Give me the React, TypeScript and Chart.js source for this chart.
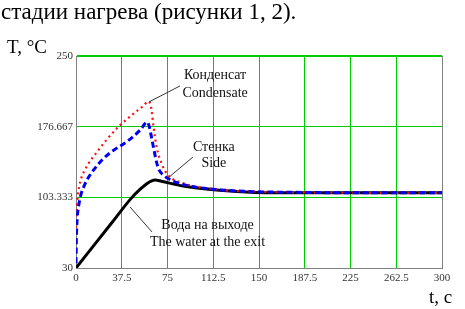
import React, { useEffect, useRef } from "react";
import { Chart, registerables } from "chart.js";

Chart.register(...registerables);

// ---- data (t in s, T in °C) ----
const condensateT = [0, 0.5, 1.5, 3.8, 7, 10, 17, 25, 36, 47, 55, 59.5, 61, 62, 63.5, 66, 70, 75, 88, 115, 140, 180, 250, 300];
const condensateV = [72, 90, 105, 121, 131, 138, 150, 163, 178, 190, 198, 203, 200, 193, 177, 156, 139, 127, 118, 111.5, 109.5, 108.5, 108, 108];

const sideT = [0, 0.3, 1, 2, 3.8, 6.6, 9.3, 14, 22.4, 30.6, 41.5, 52.5, 58.5, 60, 62, 64, 66, 68, 72, 80, 90, 110, 140, 180, 250, 300];
const sideV = [35, 60, 82, 93, 105, 115, 122, 131, 143.5, 152, 161, 173, 181.5, 177, 165, 152, 140, 132, 126, 120, 116, 112, 109.5, 108.5, 108, 108];

const waterT = [0, 15, 30, 45, 52, 58, 62, 65, 70, 88, 115, 143, 184, 250, 300];
const waterV = [30, 54, 78, 102, 111, 117.5, 120.5, 121.3, 120, 115, 111, 108.7, 108, 108, 108];

const xTicks = [0, 37.5, 75, 112.5, 150, 187.5, 225, 262.5, 300];
const yTicks = [30, 103.333, 176.667, 250];

const titleText = "стадии нагрева (рисунки 1, 2).";
const yAxisTitle = "T, °C";
const xAxisTitle = "t, c";

// annotations: text lines and leader lines, anchored in data coordinates
const labelLines = [
  { text: "Конденсат", t: 114, T: 230 },
  { text: "Condensate", t: 114, T: 211.6 },
  { text: "Стенка", t: 113, T: 155.6 },
  { text: "Side", t: 113, T: 139 },
  { text: "Вода на выходе", t: 107.8, T: 74.6 },
  { text: "The water at the exit", t: 107.8, T: 57 },
];
const leaders = [
  { t1: 59.8, T1: 202.3, t2: 85.2, T2: 218.9 },
  { t1: 75.4, T1: 123.4, t2: 95.9, T2: 145.2 },
  { t1: 44.3, T1: 93.3, t2: 62.3, T2: 67.4 },
];

const SERIF = "'Liberation Serif', 'DejaVu Serif', serif";

const toPts = (ts: number[], vs: number[]) => ts.map((t, i) => ({ x: t, y: vs[i] }));

const textPlugin = {
  id: "textPlugin",
  afterDatasetsDraw(chart: any) {
    const ctx = chart.ctx as CanvasRenderingContext2D;
    const xs = chart.scales.x;
    const ys = chart.scales.y;
    ctx.save();
    ctx.strokeStyle = "#333";
    ctx.lineWidth = 1;
    leaders.forEach((l) => {
      ctx.beginPath();
      ctx.moveTo(xs.getPixelForValue(l.t1), ys.getPixelForValue(l.T1));
      ctx.lineTo(xs.getPixelForValue(l.t2), ys.getPixelForValue(l.T2));
      ctx.stroke();
    });
    ctx.fillStyle = "#111";
    ctx.font = `14px ${SERIF}`;
    ctx.textAlign = "center";
    ctx.textBaseline = "middle";
    labelLines.forEach((l) => {
      ctx.fillText(l.text, xs.getPixelForValue(l.t), ys.getPixelForValue(l.T));
    });
    ctx.restore();
  },
  afterDraw(chart: any) {
    const ctx = chart.ctx as CanvasRenderingContext2D;
    ctx.save();
    ctx.fillStyle = "#000";
    ctx.textAlign = "left";
    ctx.textBaseline = "alphabetic";
    ctx.font = `23px ${SERIF}`;
    ctx.fillText(titleText, 1, 18.5);
    ctx.font = `19px ${SERIF}`;
    ctx.fillText(yAxisTitle, 7, 53);
    ctx.fillText(xAxisTitle, 429, 303);
    ctx.restore();
  },
};

export default function App() {
  const ref = useRef<HTMLCanvasElement | null>(null);
  useEffect(() => {
    document.body.style.margin = "0";
    if (!ref.current) return;
    const green = "rgb(0,205,0)";
    const chart = new Chart(ref.current, {
      type: "line",
      data: {
        datasets: [
          {
            label: "Вода на выходе",
            data: toPts(waterT, waterV),
            borderColor: "#000",
            borderWidth: 3,
            pointRadius: 0,
            cubicInterpolationMode: "monotone",
            order: 3,
          },
          {
            label: "Конденсат",
            data: toPts(condensateT, condensateV),
            borderColor: "#ff1010",
            borderWidth: 2.2,
            borderDash: [2, 3.5],
            pointRadius: 0,
            cubicInterpolationMode: "monotone",
            order: 2,
          },
          {
            label: "Стенка",
            data: toPts(sideT, sideV),
            borderColor: "#0000ee",
            borderWidth: 3,
            borderDash: [6, 3.5],
            pointRadius: 0,
            cubicInterpolationMode: "monotone",
            order: 1,
          },
        ],
      },
      options: {
        animation: false,
        responsive: false,
        layout: { padding: { left: 0, top: 56, right: 23, bottom: 0 } },
        plugins: { legend: { display: false }, tooltip: { enabled: false }, title: { display: false } },
        scales: {
          x: {
            type: "linear",
            min: 0,
            max: 300,
            afterBuildTicks: (s: any) => {
              s.ticks = xTicks.map((v) => ({ value: v }));
            },
            afterFit: (s: any) => {
              s.height = 41;
            },
            ticks: {
              autoSkip: false,
              maxRotation: 0,
              padding: 4,
              color: "#333",
              font: { family: SERIF, size: 11 },
              callback: (v: any) => String(v),
            },
            grid: {
              drawTicks: false,
              color: (c: any) => (c.index === xTicks.length - 1 ? "#808080" : green),
              lineWidth: 1,
            },
            border: { color: "#808080", width: 1 },
          },
          y: {
            type: "linear",
            min: 30,
            max: 250,
            afterBuildTicks: (s: any) => {
              s.ticks = yTicks.map((v) => ({ value: v }));
            },
            afterFit: (s: any) => {
              s.width = 76;
            },
            ticks: {
              autoSkip: false,
              padding: 3,
              color: "#333",
              font: { family: SERIF, size: 11 },
              callback: (v: any) => String(Number(Number(v).toFixed(3))),
            },
            grid: {
              drawTicks: false,
              color: green,
              lineWidth: (c: any) => (c.index === yTicks.length - 1 ? 2 : 1),
            },
            border: { color: "#808080", width: 1 },
          },
        },
      },
      plugins: [textPlugin],
    });
    return () => chart.destroy();
  }, []);
  return (
    <div style={{ width: 465, height: 309, background: "#fff" }}>
      <canvas ref={ref} width={465} height={309} style={{ display: "block" }} />
    </div>
  );
}
